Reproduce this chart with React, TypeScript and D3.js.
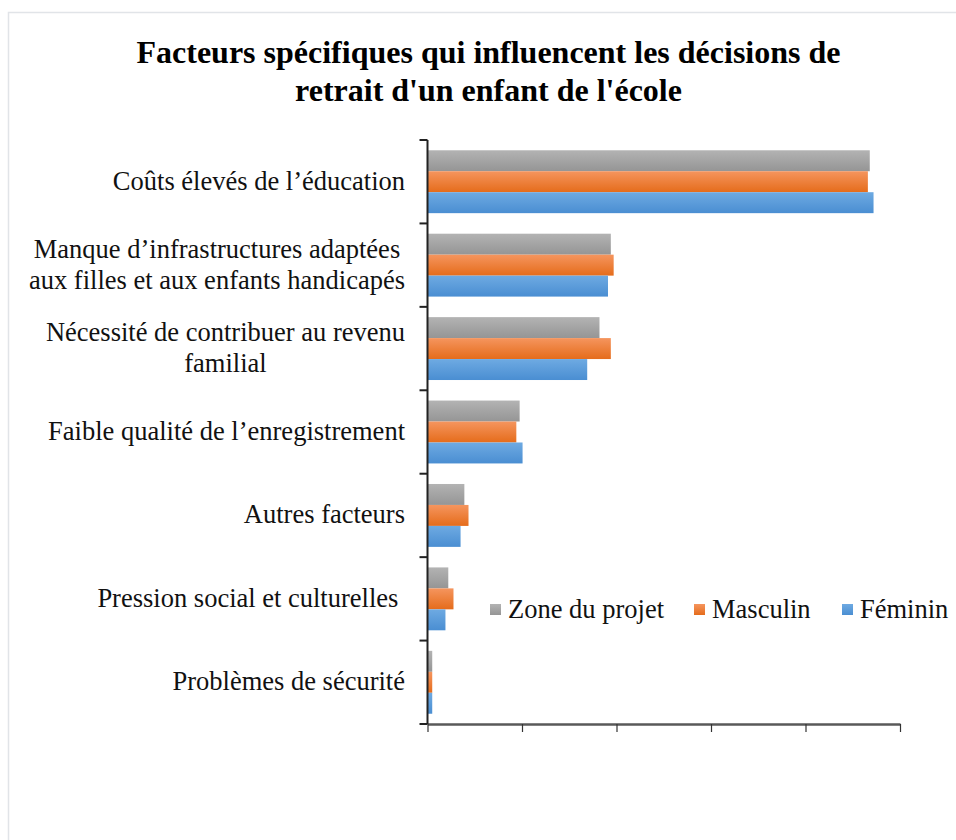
import { useEffect, useRef } from "react";
import * as d3 from "d3";

// categories, top to bottom (line breaks as in the original labels)
const categories = [
  "Coûts élevés de l’éducation",
  "Manque d’infrastructures adaptées\naux filles et aux enfants handicapés",
  "Nécessité de contribuer au revenu\nfamilial",
  "Faible qualité de l’enregistrement",
  "Autres facteurs",
  "Pression social et culturelles ",
  "Problèmes de sécurité",
];

const seriesNames = ["Zone du projet", "Masculin", "Féminin"];

// shares
const zoneProjet = [0.468, 0.194, 0.182, 0.0975, 0.039, 0.022, 0.005];
const masculin = [0.466, 0.197, 0.194, 0.094, 0.0434, 0.0275, 0.005];
const feminin = [0.472, 0.191, 0.169, 0.1006, 0.035, 0.019, 0.005];

const xTicks = [0, 0.1, 0.2, 0.3, 0.4, 0.5];

const titleLines = [
  "Facteurs spécifiques qui influencent les décisions de",
  "retrait d'un enfant de l'école",
];

const gradients = [
  { id: "g-zone", top: "#b3b3b3", bottom: "#959595" },
  { id: "g-masc", top: "#f5955e", bottom: "#e56c1b" },
  { id: "g-fem", top: "#6eaae2", bottom: "#4a8ed2" },
];

const App = () => {
  const svgRef = useRef<SVGSVGElement>(null);

  useEffect(() => {
    const svg = d3.select(svgRef.current);
    svg.selectAll("*").remove();

    const serif = "'Liberation Serif', 'Times New Roman', serif";
    const left = 427.5;
    const right = 900;
    const top = 140;
    const bottom = 724;

    const values = [zoneProjet, masculin, feminin];

    const defs = svg.append("defs");
    gradients.forEach((g) => {
      const lg = defs
        .append("linearGradient")
        .attr("id", g.id)
        .attr("x1", 0)
        .attr("y1", 0)
        .attr("x2", 0)
        .attr("y2", 1);
      lg.append("stop").attr("offset", "0%").attr("stop-color", g.top);
      lg.append("stop").attr("offset", "100%").attr("stop-color", g.bottom);
    });

    // outer frame
    svg
      .append("rect")
      .attr("x", 8.5)
      .attr("y", 12.5)
      .attr("width", 1000)
      .attr("height", 900)
      .attr("fill", "#fff")
      .attr("stroke", "#e1e4e8")
      .attr("stroke-width", 1.5);

    // title
    svg
      .append("text")
      .attr("text-anchor", "middle")
      .attr("font-family", serif)
      .attr("font-weight", "bold")
      .attr("font-size", 32)
      .selectAll("tspan")
      .data(titleLines)
      .join("tspan")
      .attr("x", 488.5)
      .attr("y", (d, i) => 63 + i * 38)
      .text((d) => d);

    const x = d3.scaleLinear().domain([0, 0.5]).range([left, right]);
    const y = d3.scaleBand<number>().domain(d3.range(categories.length)).range([top, bottom]);
    const inner = d3
      .scaleBand<number>()
      .domain(d3.range(seriesNames.length))
      .range([0, y.bandwidth()])
      .paddingOuter(0.49);

    // bars
    values.forEach((vals, s) => {
      svg
        .append("g")
        .selectAll("rect")
        .data(vals)
        .join("rect")
        .attr("x", x(0))
        .attr("y", (d, i) => (y(i) as number) + (inner(s) as number))
        .attr("width", (d) => x(d) - x(0))
        .attr("height", inner.bandwidth())
        .attr("fill", `url(#${gradients[s].id})`);
    });

    // x axis
    const xAxis = svg
      .append("g")
      .attr("transform", `translate(0,${bottom})`)
      .call(d3.axisBottom(x).tickValues(xTicks).tickFormat(() => "").tickSize(8).tickSizeOuter(0));
    xAxis.select(".domain").attr("stroke", "#595959").attr("stroke-width", 2.5);
    xAxis.selectAll(".tick line").attr("stroke", "#333").attr("stroke-width", 1.2);

    // y axis with ticks on category boundaries
    const yAxis = svg.append("g");
    yAxis
      .append("line")
      .attr("x1", left)
      .attr("x2", left)
      .attr("y1", top)
      .attr("y2", bottom)
      .attr("stroke", "#222")
      .attr("stroke-width", 2);
    yAxis
      .selectAll("line.tk")
      .data(d3.range(categories.length + 1))
      .join("line")
      .attr("class", "tk")
      .attr("x1", left - 8)
      .attr("x2", left)
      .attr("y1", (i) => top + i * y.step())
      .attr("y2", (i) => top + i * y.step())
      .attr("stroke", "#222")
      .attr("stroke-width", 2);

    // category labels: right aligned block, lines centred within it
    const labelRight = 405;
    const lineH = 31;
    categories.forEach((c, i) => {
      const lines = c.split("\n");
      const t = svg
        .append("text")
        .attr("font-family", serif)
        .attr("font-size", 26.5)
        .attr("fill", "#111")
        .style("white-space", "pre");
      const spans = t
        .selectAll("tspan")
        .data(lines)
        .join("tspan")
        .attr("y", (d, j) => (y(i) as number) + y.bandwidth() / 2 + (j - (lines.length - 1) / 2) * lineH + 8)
        .text((d) => d);
      let maxW = 0;
      spans.each(function () {
        maxW = Math.max(maxW, (this as SVGTSpanElement).getComputedTextLength());
      });
      t.attr("text-anchor", "middle");
      spans.attr("x", labelRight - maxW / 2);
    });

    // legend
    const legend = svg.append("g").attr("font-family", serif).attr("font-size", 26.5);
    const legendX = [490, 694, 842];
    seriesNames.forEach((n, i) => {
      legend
        .append("rect")
        .attr("x", legendX[i])
        .attr("y", 604)
        .attr("width", 11)
        .attr("height", 11)
        .attr("fill", `url(#${gradients[i].id})`);
      legend
        .append("text")
        .attr("x", legendX[i] + 18)
        .attr("y", 618)
        .attr("fill", "#111")
        .text(n);
    });
  }, []);

  return (
    <svg
      ref={svgRef}
      width={956}
      height={840}
      style={{ position: "absolute", left: 0, top: 0 }}
    />
  );
};

export default App;
